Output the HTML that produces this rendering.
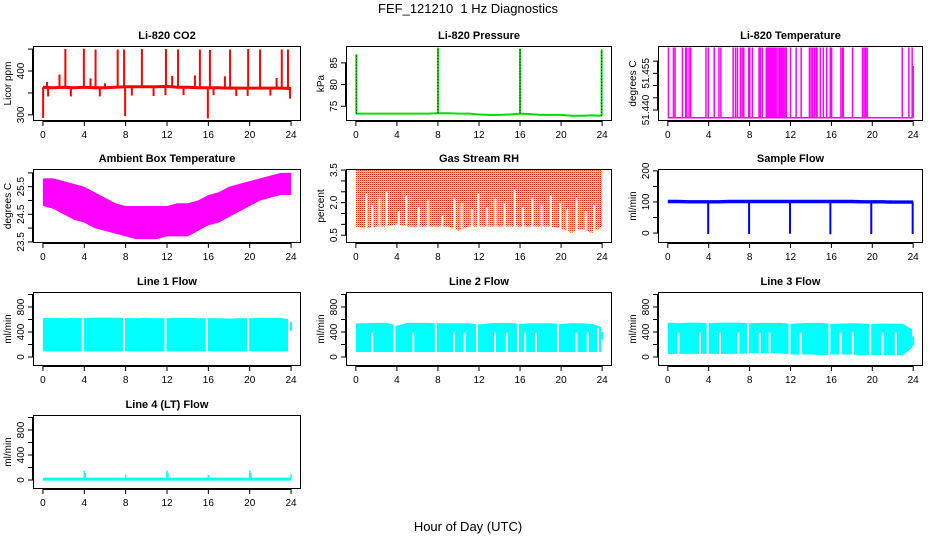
<!DOCTYPE html>
<html><head><meta charset="utf-8">
<style>
html,body{margin:0;padding:0;background:#fff;}
svg{display:block;font-family:"Liberation Sans",sans-serif;}
</style></head>
<body>
<svg id="chart" width="936" height="540" viewBox="0 0 936 540">
<defs>
<pattern id="rhpat" width="2" height="2" patternUnits="userSpaceOnUse">
<rect width="2" height="2" fill="#ffff00"/><rect x="0" y="0" width="1" height="1" fill="#ff2000"/><rect x="1" y="1" width="1" height="1" fill="#ffb000"/>
</pattern>
</defs>
<text x="468" y="13" text-anchor="middle" font-size="13">FEF_121210&#160; 1 Hz Diagnostics</text>
<text x="468" y="531" text-anchor="middle" font-size="13">Hour of Day (UTC)</text>
</svg>
<script>
// ---- data ----
const xTicks = [0,4,8,12,16,20,24];
const hours = [0,1,2,3,4,5,6,7,8,9,10,11,12,13,14,15,16,17,18,19,20,21,22,23,24];
const bandHours = [0,1,2,3,4,5,6,7,8,9,10,11,12,13,14,15,16,17,18,19,20,21,22,23,23.9];
// CO2
const co2Base = [363,362,363,362,363,362,362,363,364,364,364,364,365,363,363,362,362,362,361,361,361,361,361,361,360];
const co2SpikeHours = [2.17,3.96,5.09,7.23,7.85,9.57,11.9,13.07,15.18,16.15,18.1,19.85,21.0,23.1,23.7,1.6,4.6,12.5,14.7,17.6,22.6,0.4,6.0];
const co2SpikeVals  = [450,451,449,449,449,450,450,449,449,448,449,450,449,449,449,392,383,389,390,388,384,375,372];
const co2DipHours = [0.02,0.5,2.7,5.5,7.95,8.6,10.7,11.85,13.6,15.95,16.5,18.7,19.8,22.0,23.9];
const co2DipVals  = [293,342,342,342,297,344,343,345,345,292,345,343,343,344,337];
// Pressure
const presBase = [73.3,73.3,73.3,73.3,73.3,73.3,73.3,73.3,73.4,73.4,73.3,73.3,73.1,73.0,73.0,73.1,73.3,73.2,73.0,73.0,73.0,72.8,72.8,72.9,72.8];
const presSpikeHours = [0.05,8.0,16.0,23.95];
const presSpikeVals = [87.0,88.5,88.3,88.1];
// Li-820 temperature
const tempLow = 51.4368, tempHigh = 51.4656;
const tempSwitchHours = [0.06,0.55,0.71,1.43,1.75,1.85,2.08,2.24,3.73,3.96,4.54,5.0,5.19,6.39,6.62,6.81,7.1,7.27,7.43,7.91,8.01,8.27,8.92,9.05,9.24,9.63,9.7,9.8,9.9,10.0,10.1,10.2,10.3,10.4,10.5,10.6,10.77,10.93,11.0,11.1,11.2,11.3,11.45,11.58,12.0,12.55,13.04,13.85,14.01,14.17,14.34,14.5,14.6,14.92,15.21,15.54,15.89,16.02,16.93,17.09,17.16,18.07,19.04,19.2,19.35,19.5,22.93,23.58,23.9];
// Ambient box temperature envelope
const ambMax = [25.8,25.8,25.7,25.6,25.5,25.3,25.1,24.9,24.8,24.8,24.8,24.8,24.8,24.9,24.9,25.0,25.2,25.3,25.5,25.6,25.7,25.8,25.9,26.0,26.0];
const ambMin = [24.8,24.7,24.5,24.3,24.2,24.0,23.9,23.8,23.7,23.6,23.6,23.6,23.7,23.7,23.7,23.9,24.1,24.2,24.4,24.6,24.8,25.0,25.1,25.2,25.2];
// RH
const rhMax = [3.55,3.5,3.5,3.5,3.5,3.5,3.5,3.5,3.5,3.5,3.5,3.5,3.5,3.5,3.5,3.5,3.5,3.5,3.5,3.5,3.5,3.5,3.5,3.5,3.5];
const rhMin = [0.9,0.8,0.9,0.9,1.0,0.9,0.9,0.9,0.9,0.9,0.7,0.9,0.9,0.9,0.9,0.9,0.9,0.9,0.9,0.9,0.8,0.6,0.8,0.6,0.9];
const rhGapHours = [1.0,1.6,2.3,3.0,4.2,4.9,6.1,7.0,8.4,9.6,10.3,11.3,11.9,12.8,13.6,14.5,15.5,16.3,17.2,18.1,19.0,19.9,20.6,21.5,22.4,23.2];
const rhGapTops  = [2.4,1.9,2.2,2.5,1.6,2.3,1.8,2.1,1.4,2.2,2.0,1.7,2.4,1.8,2.2,2.0,2.6,1.8,2.2,1.9,2.3,2.0,1.7,2.2,1.6,1.9];
// Sample flow
const sfBase = [103,103,102,102,102,102,103,103,103,103,103,103,103,103,103,103,103,103,103,102,102,102,101,101,101];
const sfDipHours = [3.95,7.95,11.95,15.9,19.9,23.95];
const sfDipVals = [-3,-3,-2,-4,-3,-3];
// Line flows (band to 23.9 h, plus end segment at 24 h)
const l1Max = [620,625,620,625,620,630,630,630,625,620,625,620,620,625,625,620,620,620,615,620,620,625,625,625,600];
const l1Min = [90,90,90,90,90,90,90,90,90,90,90,90,90,90,90,90,90,90,90,90,90,90,90,90,90];
const l1End = [420,560];
const l1GapHours = [3.85,7.85,11.85,15.85,19.85,23.8];
const l1GapTops = [650,650,650,650,650,650];
const l2Max = [540,540,545,545,500,545,545,545,540,540,540,540,520,540,545,545,530,540,540,540,530,540,540,530,480];
const l2Min = [80,80,80,80,80,80,80,80,80,80,80,80,80,80,80,80,80,80,80,80,80,80,80,80,80];
const l2End = [280,400];
const l2GapHours = [1.6,3.76,5.6,7.8,9.57,10.6,11.8,13.56,14.7,15.8,16.5,17.55,19.7,21.5,22.6,23.6];
const l2GapTops = [390,600,390,600,390,390,600,390,390,600,390,390,600,390,390,460];
const l3Max = [550,540,550,550,540,550,550,550,540,545,545,545,530,540,545,545,530,535,540,535,530,535,535,530,440];
const l3Min = [50,50,50,50,50,50,50,50,60,60,60,60,40,40,40,30,40,40,40,30,30,30,30,30,150];
const l3End = [180,330];
const l3GapHours = [1.04,3.15,3.9,5.1,6.9,7.85,9.0,9.96,11.9,13.0,15.8,16.9,18.1,19.8,21.0,22.3];
const l3GapTops = [390,390,600,390,390,600,390,390,600,390,600,390,390,600,390,390];
const l4Base = [15,15,15,15,15,15,15,15,15,15,15,15,15,15,15,15,15,15,15,15,15,15,15,15,15];
const l4SpikeHours = [4.0,4.1,8.0,12.0,12.1,16.0,20.0,20.1,24.0];
const l4SpikeVals = [150,110,90,150,110,80,150,110,90];

// ---- drawing ----
const svg = document.getElementById('chart');
const NS = 'http://www.w3.org/2000/svg';
function mk(tag, attrs, parent){
  const e = document.createElementNS(NS, tag);
  for (const k in attrs) e.setAttribute(k, attrs[k]);
  (parent||svg).appendChild(e);
  return e;
}
const cols = [[33,301],[346,612],[658,923]];
const rows = [[46,121],[169,243],[292,366],[415,489]];

function panel(name, col, row, title, ylab, ydom, yticks, ylabels){
  const [L,R] = cols[col], [T,B] = rows[row];
  const g = mk('g', {});
  
  
  const span = 24*0.04;
  const sx = h => L + (h + span)/(24+2*span)*(R-L);
  const sy = v => B - (v - ydom[0])/(ydom[1]-ydom[0])*(B-T);
  const plot = mk('g', {}, g);
  
  
  const t = mk('text', {x:(L+R)/2, y:T-7, 'text-anchor':'middle', 'font-size':11, 'font-weight':'bold'}, g);
  t.textContent = title;
  
  
  const xa = mk('g', {stroke:'#000','stroke-width':1}, g);
  
  
  mk('line', {x1:sx(0), x2:sx(24), y1:B+0.5, y2:B+0.5}, xa);
  xTicks.forEach(h => {
    mk('line', {x1:sx(h), x2:sx(h), y1:B, y2:B+5}, xa);
    const tx = mk('text', {x:sx(h), y:B+17, 'text-anchor':'middle','font-size':10, stroke:'none'}, xa);
    tx.textContent = h;
    
    
  });
  const ya = mk('g', {stroke:'#000','stroke-width':1}, g);
  
  
  mk('line', {x1:L-0.5, x2:L-0.5, y1:sy(yticks[0]), y2:sy(yticks[yticks.length-1])}, ya);
  yticks.forEach(v => mk('line', {x1:L-5, x2:L, y1:sy(v), y2:sy(v)}, ya));
  ylabels.forEach(lb => {
    const y = sy(lb[0]);
    const ty = mk('text', {x:0, y:0, transform:`translate(${L-9},${y}) rotate(-90)`, 'text-anchor':'middle','font-size':10, stroke:'none'}, ya);
    ty.textContent = lb[1];
    
    
  });
  const yl = mk('text', {x:0,y:0, transform:`translate(${L-22},${(T+B)/2}) rotate(-90)`, 'text-anchor':'middle','font-size':10}, g);
  yl.textContent = ylab;
  
  
  const box = mk('rect', {x:L+0.5, y:T+0.5, width:R-L-1, height:B-T-1, fill:'none', stroke:'#000'}, g);
  
  
  return {sx, sy, plot, g, box};
}
function lineSeries(p, xs, ys, color, w){
  const d = xs.map((h,i)=>(i?'L':'M')+p.sx(h).toFixed(1)+','+p.sy(ys[i]).toFixed(1)).join('');
  return mk('path', {d, fill:'none', stroke:color, 'stroke-width':w||1}, p.plot);
}
function band(p, xs, lo, hi, fill){
  let d = xs.map((h,i)=>(i?'L':'M')+p.sx(h).toFixed(1)+','+p.sy(hi[i]).toFixed(1)).join('');
  for (let i=xs.length-1;i>=0;i--) d += 'L'+p.sx(xs[i]).toFixed(1)+','+p.sy(lo[i]).toFixed(1);
  return mk('path', {d:d+'Z', fill, stroke:'none'}, p.plot);
}
function vline(p, h, v0, v1, color, w, extra){
  const a = {x1:p.sx(h), x2:p.sx(h), y1:p.sy(v0), y2:p.sy(v1), stroke:color, 'stroke-width':w||1};
  if (extra) Object.assign(a, extra);
  return mk('line', a, p.plot);
}
function named(el, n){   return el; }

// CO2
let p = panel('co2', 0, 0, 'Li-820 CO2', 'Licor ppm', [286,457], [300,350,400,450], [[300,'300'],[400,'400']]);
named(lineSeries(p, hours, co2Base, '#ff0000', 3), 'co2-line');
co2SpikeHours.forEach((h,i)=>{ const l=vline(p,h,co2Base[Math.round(h)],co2SpikeVals[i],'#ff0000',2);
    });
co2DipHours.forEach((h,i)=>{ const l=vline(p,h,co2Base[Math.round(h)],co2DipVals[i],'#ff0000',2);
    });

// Pressure
p = panel('pressure', 1, 0, 'Li-820 Pressure', 'kPa', [71.6,88.9], [75,80,85], [[75,'75'],[80,'80'],[85,'85']]);
named(lineSeries(p, hours, presBase, '#00dd00', 2), 'pressure-line');
presSpikeHours.forEach((h,i)=>{
  const l=vline(p,h,presBase[Math.round(h)],presSpikeVals[i],'#00dd00',2);
   
  const d=vline(p,h,presBase[Math.round(h)],presSpikeVals[i],'#000',1,{'stroke-dasharray':'1,2'});
   
});

// Li-820 temperature
p = panel('li820-temp', 2, 0, 'Li-820 Temperature', 'degrees C', [51.4355,51.4662], [51.440,51.445,51.450,51.455,51.460], [[51.440,'51.440'],[51.455,'51.455']]);
named(lineSeries(p, [0,24], [tempLow,tempLow], '#ff00ff', 1.5), 'temp-low-level');
tempSwitchHours.forEach(h=>{ const l=vline(p,h,tempLow,tempHigh,'#ff00ff',1.5);
    });
named(vline(p,24,tempLow,51.458,'#ff00ff',1.5),'temp-end');

// Ambient
p = panel('ambient-temp', 0, 1, 'Ambient Box Temperature', 'degrees C', [23.46,26.14], [23.5,24,24.5,25,25.5,26], [[23.5,'23.5'],[24.5,'24.5'],[25.5,'25.5']]);
named(band(p, hours, ambMin, ambMax, '#ff00ff'), 'ambient-temp-band');

// RH
p = panel('gas-rh', 1, 1, 'Gas Stream RH', 'percent', [0.14,3.55], [0.5,1,1.5,2,2.5,3,3.5], [[0.5,'0.5'],[2.0,'2.0'],[3.5,'3.5']]);
named(band(p, hours, rhMin, rhMax, 'url(#rhpat)'), 'rh-band');
rhGapHours.forEach((h,i)=>{ const l=vline(p,h,0.14,rhGapTops[i],'#fff',2);
    });

// Sample flow
p = panel('sample-flow', 2, 1, 'Sample Flow', 'ml/min', [-32,206], [0,50,100,150,200], [[0,'0'],[100,'100'],[200,'200']]);
named(band(p, hours, sfBase.map(v=>v-7), sfBase.map(v=>v+4), '#0000ff'), 'sample-flow-band');
sfDipHours.forEach((h,i)=>{ const l=vline(p,h,sfBase[Math.round(h)],sfDipVals[i],'#0000ff',2);
    });

// Line flows
const flowTicks = [0,200,400,600,800,1000], flowLabels = [[0,'0'],[400,'400'],[800,'800']];
function flowPanel(name, col, row, title, mn, mx, gh, gt, end){
  const q = panel(name, col, row, title, 'ml/min', [-144,1040], flowTicks, flowLabels);
  named(band(q, bandHours, mn, mx, '#00ffff'), name+'-band');
  gh.forEach((h,i)=>{ const l=vline(q,h,0,gt[i],'#fff',2);
      });
  named(vline(q,24,end[0],end[1],'#00ffff',2), name+'-end');
  return q;
}
flowPanel('line1-flow', 0, 2, 'Line 1 Flow', l1Min, l1Max, l1GapHours, l1GapTops, l1End);
flowPanel('line2-flow', 1, 2, 'Line 2 Flow', l2Min, l2Max, l2GapHours, l2GapTops, l2End);
flowPanel('line3-flow', 2, 2, 'Line 3 Flow', l3Min, l3Max, l3GapHours, l3GapTops, l3End);
p = panel('line4-flow', 0, 3, 'Line 4 (LT) Flow', 'ml/min', [-144,1040], flowTicks, flowLabels);
named(lineSeries(p, hours, l4Base, '#00ffff', 3), 'line4-flow-line');
l4SpikeHours.forEach((h,i)=>{ const l=vline(p,h,l4Base[Math.round(h)],l4SpikeVals[i],'#00ffff',1.5);
    });
</script>
</body></html>
